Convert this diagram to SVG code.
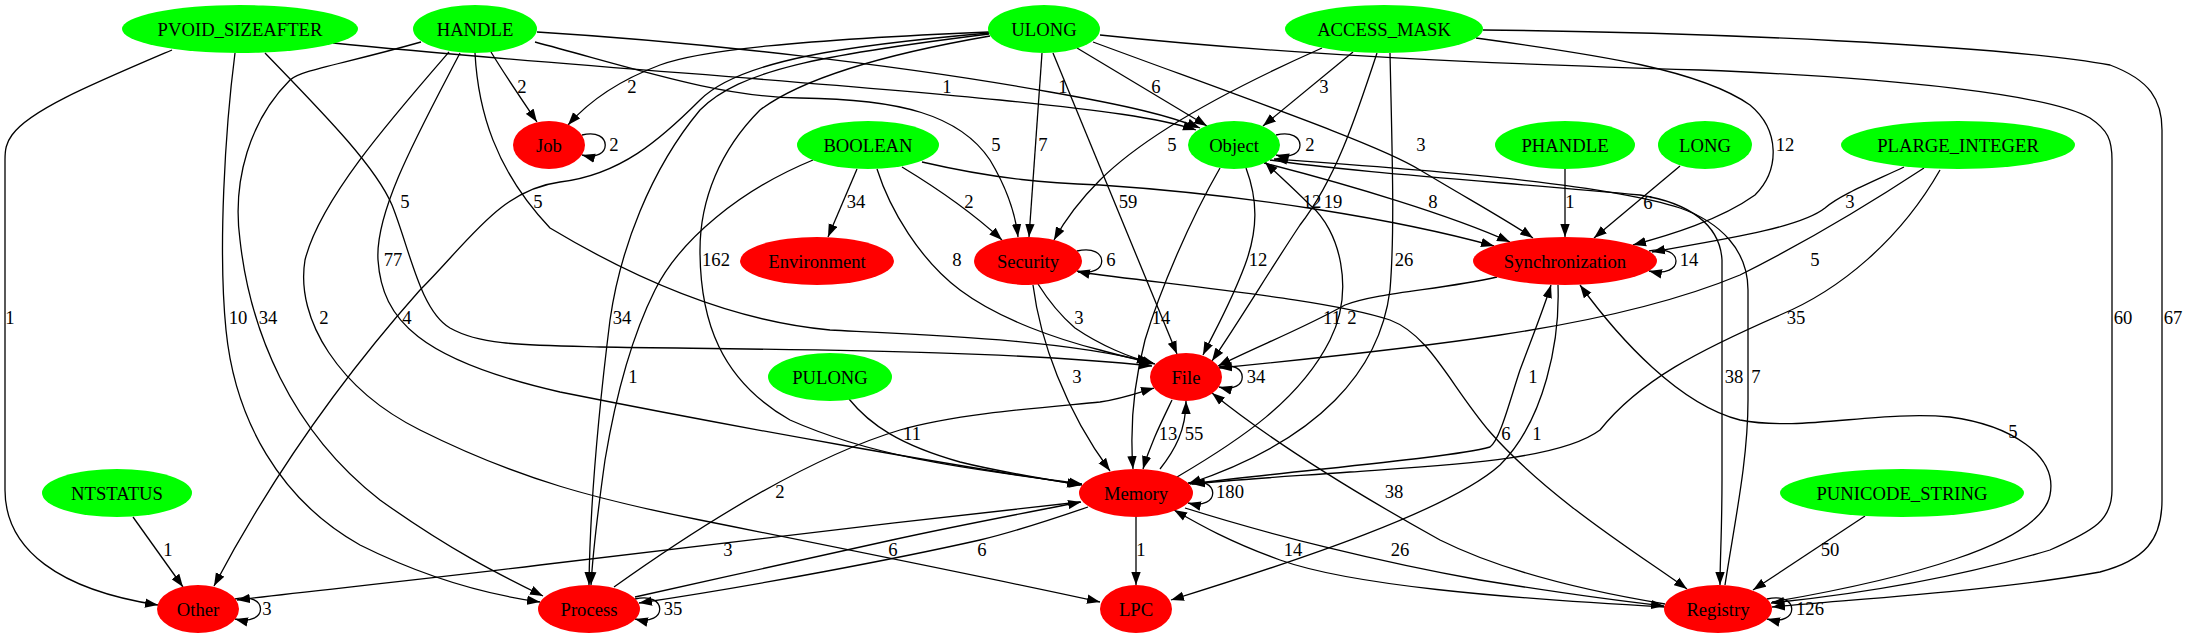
<svg xmlns="http://www.w3.org/2000/svg" width="2187" height="639" viewBox="0 0 2187 639">
<defs>
<marker id="ah" markerUnits="userSpaceOnUse" markerWidth="14" markerHeight="10" refX="13" refY="5" orient="auto"><path d="M0,0.3 L13,5 L0,9.7 z" fill="#000"/></marker>
<style>
text{font-family:"Liberation Serif","Times New Roman",serif;font-size:18.67px;text-anchor:middle;fill:#000}
.src ellipse{fill:#00ff00}
.dst ellipse{fill:#ff0000}
#edges path{fill:none;stroke:#000;stroke-width:1.3;marker-end:url(#ah)}
</style>
</defs>
<rect width="2187" height="639" fill="#fff"/>
<g id="edges">
<g><path d="M172,50 C90,85 30,110 12,135 C6,143 5,150 5,160 L5,490 C5,550 60,590 158,605"/><text x="10" y="324">1</text></g>
<g><path d="M235,53 C225,130 218,250 226,330 C235,420 280,500 360,545 C430,580 490,595 540,602"/><text x="238" y="324">10</text></g>
<g><path d="M333,43 C550,65 800,80 1000,100 C1100,110 1160,118 1196,130"/><text x="947" y="93">1</text></g>
<g><path d="M265,53 C320,110 375,165 392,205 C410,250 420,310 450,328 C480,345 520,345 600,347 C800,350 1000,350 1152,366"/><text x="405" y="208">5</text></g>
<g><path d="M491,52 C505,75 522,100 537,122"/><text x="522" y="93">2</text></g>
<g><path d="M537,32 C700,42 900,65 1050,92 C1130,106 1170,116 1200,128"/><text x="1063" y="93">1</text></g>
<g><path d="M535,42 C640,70 720,97 800,98 C900,99 960,115 990,160 C1005,185 1015,210 1018,237"/><text x="996" y="151">5</text></g>
<g><path d="M475,53 C478,110 495,170 550,228 C620,270 720,320 830,330 C950,336 1060,340 1150,362"/><text x="538" y="208">5</text></g>
<g><path d="M460,53 C420,130 375,210 378,260 C382,320 420,360 560,392 C750,430 950,465 1082,485"/><text x="393" y="266">77</text></g>
<g><path d="M421,42 C340,65 300,70 290,80 C250,120 232,180 240,240 C250,330 290,430 380,500 C450,550 500,575 543,596"/><text x="268" y="324">34</text></g>
<g><path d="M449,52 C390,120 320,200 305,260 C295,320 340,390 420,430 C520,480 600,500 700,520 C850,550 1000,580 1100,602"/><text x="324" y="324">2</text></g>
<g><path d="M989,32 C800,40 700,50 660,65 C620,80 590,100 568,125"/><text x="632" y="93">2</text></g>
<g><path d="M989,33 C850,45 740,60 700,100 C660,140 620,175 560,182 C500,190 470,240 420,290 C340,380 270,480 214,586"/><text x="407" y="324">4</text></g>
<g><path d="M989,34 C820,55 740,70 700,110 C650,170 620,250 610,320 C600,400 590,500 589,585"/><text x="622" y="324">34</text></g>
<g><path d="M990,36 C880,55 800,80 760,110 C720,150 700,200 700,250 C700,320 720,380 790,420 C880,460 980,470 1082,484"/><text x="716" y="266">162</text></g>
<g><path d="M1042,53 L1029,237"/><text x="1043" y="151">7</text></g>
<g><path d="M1053,53 L1177,354"/><text x="1128" y="208">59</text></g>
<g><path d="M1077,48 L1207,126"/><text x="1156" y="93">6</text></g>
<g><path d="M1093,42 C1250,100 1380,145 1420,170 C1470,200 1510,222 1533,238"/><text x="1421" y="151">3</text></g>
<g><path d="M1100,35 C1300,56 1500,64 1700,70 C1900,78 2050,95 2090,118 C2108,130 2112,140 2112,160 L2112,490 C2112,520 2095,530 2050,550 C1950,580 1850,595 1771,603"/><text x="2123" y="324">60</text></g>
<g><path d="M1353,52 L1263,126"/><text x="1324" y="93">3</text></g>
<g><path d="M1322,48 C1250,80 1150,130 1100,180 C1080,200 1065,220 1054,240"/><text x="1172" y="151">5</text></g>
<g><path d="M1377,53 C1355,120 1335,180 1300,225 C1270,270 1240,320 1212,361"/><text x="1333" y="208">19</text></g>
<g><path d="M1390,53 C1392,150 1395,230 1390,290 C1380,370 1320,440 1188,484"/><text x="1404" y="266">26</text></g>
<g><path d="M1476,38 C1600,55 1700,70 1750,105 C1780,130 1780,170 1755,195 C1720,220 1670,235 1633,245"/><text x="1785" y="151">12</text></g>
<g><path d="M1483,30 C1700,32 2000,45 2110,65 C2150,80 2162,100 2162,130 L2162,500 C2162,540 2145,560 2100,572 C2000,590 1870,598 1772,607"/><text x="2173" y="324">67</text></g>
<g><path d="M857,169 L828,237"/><text x="856" y="208">34</text></g>
<g><path d="M902,167 C940,190 975,215 1002,240"/><text x="969" y="208">2</text></g>
<g><path d="M877,169 C890,210 920,260 960,290 C1000,320 1060,340 1100,350 C1125,357 1140,360 1155,364"/><text x="957" y="266">8</text></g>
<g><path d="M813,160 C740,190 680,240 655,290 C630,340 615,400 605,460 C598,510 593,550 591,585"/><text x="633" y="383">1</text></g>
<g><path d="M922,162 C1000,180 1050,183 1100,185 C1250,195 1400,220 1494,246"/><text x="1312" y="208">12</text></g>
<g><path d="M1264,163 C1350,185 1450,215 1510,242"/><text x="1433" y="208">8</text></g>
<g><path d="M1565,169 L1565,237"/><text x="1570" y="208">1</text></g>
<g><path d="M1680,166 L1594,238"/><text x="1648" y="209">6</text></g>
<g><path d="M1904,167 C1870,183 1840,195 1825,208 C1800,228 1720,240 1652,252"/><text x="1850" y="208">3</text></g>
<g><path d="M1924,168 C1860,210 1790,250 1740,275 C1680,300 1600,320 1500,335 C1400,350 1300,360 1219,368"/><text x="1815" y="266">5</text></g>
<g><path d="M1940,170 C1900,240 1840,290 1780,315 C1700,350 1640,380 1600,430 C1560,460 1450,465 1350,472 C1280,477 1230,480 1192,484"/><text x="1796" y="324">35</text></g>
<g><path d="M1220,168 C1190,220 1160,290 1145,340 C1132,390 1130,430 1133,469"/><text x="1161" y="324">14</text></g>
<g><path d="M1246,168 C1258,200 1258,230 1245,265 C1230,305 1215,330 1203,355"/><text x="1258" y="266">12</text></g>
<g><path d="M1177,477 C1240,440 1300,400 1330,340 C1355,290 1340,230 1310,205 C1290,185 1275,172 1265,162"/><text x="1352" y="324">2</text></g>
<g><path d="M1497,277 C1440,290 1380,292 1345,305 C1300,330 1260,345 1218,366"/><text x="1332" y="324">11</text></g>
<g><path d="M1077,251 C1110,243 1110,279 1077,271"/><text x="1111" y="266">6</text></g>
<g><path d="M1038,284 C1048,300 1060,315 1075,328 C1100,345 1130,358 1153,363"/><text x="1079" y="324">3</text></g>
<g><path d="M1033,285 C1040,340 1065,410 1110,471"/><text x="1077" y="383">3</text></g>
<g><path d="M1190,484 C1300,470 1450,458 1490,447 C1500,440 1510,400 1520,370 C1535,330 1545,305 1551,285"/><text x="1533" y="383">1</text></g>
<g><path d="M1558,285 C1560,340 1545,420 1500,465 C1450,510 1300,560 1171,600"/><text x="1537" y="440">1</text></g>
<g><path d="M1078,272 C1200,288 1330,300 1390,320 C1430,335 1450,385 1490,432 C1550,500 1640,555 1687,589"/><text x="1506" y="440">6</text></g>
<g><path d="M1665,604 C1580,590 1500,570 1440,540 C1350,490 1270,440 1212,393"/><text x="1394" y="498">38</text></g>
<g><path d="M1665,607 C1500,598 1350,585 1280,560 C1230,542 1200,525 1174,510"/><text x="1293" y="556">14</text></g>
<g><path d="M1185,508 C1270,535 1380,562 1480,580 C1560,593 1620,601 1664,606"/><text x="1400" y="556">26</text></g>
<g><path d="M1080,502 C900,522 700,545 540,565 C420,580 300,592 237,600"/><text x="728" y="556">3</text></g>
<g><path d="M635,597 C720,578 820,556 892,540 C960,525 1030,512 1081,502"/><text x="893" y="556">6</text></g>
<g><path d="M1088,507 C1050,520 1010,533 980,540 C900,558 760,585 639,603"/><text x="982" y="556">6</text></g>
<g><path d="M614,587 C680,540 800,460 900,430 C960,413 1050,407 1100,402 C1125,398 1140,392 1154,388"/><text x="780" y="498">2</text></g>
<g><path d="M849,399 C870,425 900,445 960,462 C1000,472 1040,478 1080,485"/><text x="912" y="440">11</text></g>
<g><path d="M1172,400 C1160,425 1150,445 1143,469"/><text x="1168" y="440">13</text></g>
<g><path d="M1160,469 C1175,450 1186,430 1186,401"/><text x="1194" y="440">55</text></g>
<g><path d="M1136,517 L1136,585"/><text x="1141" y="556">1</text></g>
<g><path d="M133,517 L183,587"/><text x="168" y="556">1</text></g>
<g><path d="M1865,516 L1753,590"/><text x="1830" y="556">50</text></g>
<g><path d="M1772,602 C1900,580 2040,545 2050,495 C2058,455 2010,425 1950,417 C1880,410 1800,432 1740,420 C1680,405 1620,340 1580,285"/><text x="2013" y="438">5</text></g>
<g><path d="M1270,160 C1350,172 1500,182 1640,195 C1690,203 1720,225 1722,260 L1722,480 C1722,530 1720,560 1720,585"/><text x="1734" y="383">38</text></g>
<g><path d="M1725,585 C1735,520 1748,460 1748,400 L1748,290 C1748,250 1720,222 1680,208 C1600,182 1400,168 1274,159"/><text x="1756" y="383">7</text></g>
<g><path d="M582,135 C613,127 613,163 582,155"/><text x="614" y="151">2</text></g>
<g><path d="M1276,135 C1308,127 1308,163 1276,155"/><text x="1310" y="151">2</text></g>
<g><path d="M1649,251 C1685,243 1685,279 1649,271"/><text x="1689" y="266">14</text></g>
<g><path d="M1219,367 C1250,359 1250,395 1219,387"/><text x="1256" y="383">34</text></g>
<g><path d="M1188,483 C1221,475 1221,511 1188,503"/><text x="1230" y="498">180</text></g>
<g><path d="M235,599 C269,591 269,627 235,619"/><text x="267" y="615">3</text></g>
<g><path d="M635,599 C668,591 668,627 635,619"/><text x="673" y="615">35</text></g>
<g><path d="M1767,599 C1800,591 1800,627 1767,619"/><text x="1810" y="615">126</text></g>
</g>
<g id="node-PVOID_SIZEAFTER" class="src"><ellipse cx="240" cy="29" rx="118" ry="24"/><text x="240" y="35.5">PVOID_SIZEAFTER</text></g>
<g id="node-HANDLE" class="src"><ellipse cx="475" cy="29" rx="62" ry="24"/><text x="475" y="35.5">HANDLE</text></g>
<g id="node-ULONG" class="src"><ellipse cx="1044" cy="29" rx="56" ry="24"/><text x="1044" y="35.5">ULONG</text></g>
<g id="node-ACCESS_MASK" class="src"><ellipse cx="1384" cy="29" rx="99" ry="24"/><text x="1384" y="35.5">ACCESS_MASK</text></g>
<g id="node-Job" class="dst"><ellipse cx="549" cy="145" rx="36" ry="24"/><text x="549" y="151.5">Job</text></g>
<g id="node-BOOLEAN" class="src"><ellipse cx="868" cy="145" rx="71" ry="24"/><text x="868" y="151.5">BOOLEAN</text></g>
<g id="node-Object" class="src"><ellipse cx="1234" cy="145" rx="46" ry="24"/><text x="1234" y="151.5">Object</text></g>
<g id="node-PHANDLE" class="src"><ellipse cx="1565" cy="145" rx="70" ry="24"/><text x="1565" y="151.5">PHANDLE</text></g>
<g id="node-LONG" class="src"><ellipse cx="1705" cy="145" rx="47" ry="24"/><text x="1705" y="151.5">LONG</text></g>
<g id="node-PLARGE_INTEGER" class="src"><ellipse cx="1958" cy="145" rx="117" ry="24"/><text x="1958" y="151.5">PLARGE_INTEGER</text></g>
<g id="node-Environment" class="dst"><ellipse cx="817" cy="261" rx="77" ry="24"/><text x="817" y="267.5">Environment</text></g>
<g id="node-Security" class="dst"><ellipse cx="1028" cy="261" rx="54" ry="24"/><text x="1028" y="267.5">Security</text></g>
<g id="node-Synchronization" class="dst"><ellipse cx="1565" cy="261" rx="92" ry="24"/><text x="1565" y="267.5">Synchronization</text></g>
<g id="node-PULONG" class="src"><ellipse cx="830" cy="377" rx="62" ry="24"/><text x="830" y="383.5">PULONG</text></g>
<g id="node-File" class="dst"><ellipse cx="1186" cy="377" rx="36" ry="24"/><text x="1186" y="383.5">File</text></g>
<g id="node-NTSTATUS" class="src"><ellipse cx="117" cy="493" rx="75" ry="24"/><text x="117" y="499.5">NTSTATUS</text></g>
<g id="node-Memory" class="dst"><ellipse cx="1136" cy="493" rx="57" ry="24"/><text x="1136" y="499.5">Memory</text></g>
<g id="node-PUNICODE_STRING" class="src"><ellipse cx="1902" cy="493" rx="122" ry="24"/><text x="1902" y="499.5">PUNICODE_STRING</text></g>
<g id="node-Other" class="dst"><ellipse cx="198" cy="609" rx="41" ry="24"/><text x="198" y="615.5">Other</text></g>
<g id="node-Process" class="dst"><ellipse cx="589" cy="609" rx="51" ry="24"/><text x="589" y="615.5">Process</text></g>
<g id="node-LPC" class="dst"><ellipse cx="1136" cy="609" rx="36" ry="24"/><text x="1136" y="615.5">LPC</text></g>
<g id="node-Registry" class="dst"><ellipse cx="1718" cy="609" rx="54" ry="24"/><text x="1718" y="615.5">Registry</text></g>
</svg>
